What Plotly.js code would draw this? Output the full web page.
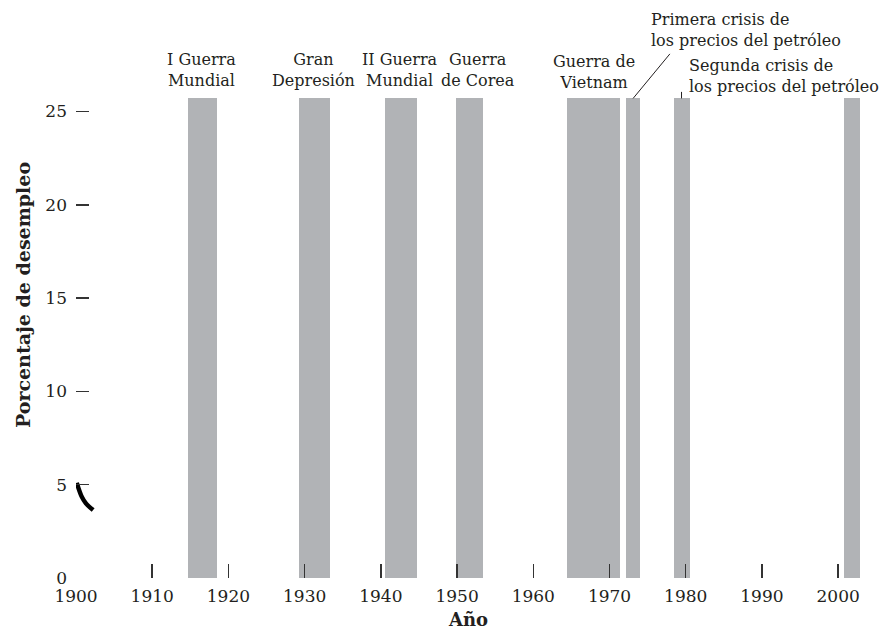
<!DOCTYPE html>
<html>
<head>
<meta charset="utf-8">
<script src="https://cdn.plot.ly/plotly-3.0.1.min.js"></script>
<style>html,body{margin:0;padding:0;background:#fff;}#chart{width:879px;height:631px;}</style>
</head>
<body>
<div id="chart"></div>
<script>
// ---- data ----
const periodLabels = ["I Guerra<br>Mundial", "Gran<br>Depresión", "II Guerra<br>Mundial", "Guerra<br>de Corea",
  "Guerra de<br>Vietnam", "Primera crisis de<br>los precios del petróleo", "Segunda crisis de<br>los precios del petróleo", ""];
const periodStart = [1914.7, 1929.2, 1940.6, 1949.9, 1964.4, 1972.2, 1978.5, 2000.8];
const periodEnd   = [1918.5, 1933.3, 1944.8, 1953.4, 1971.4, 1974.0, 1980.6, 2002.9];
const periodTop   = [25.7, 25.7, 25.7, 25.7, 25.7, 25.7, 25.7, 25.7];

const unempYears = [1900.1, 1900.75, 1901.3, 1902.25];
const unempRate  = [5.1, 4.36, 4.0, 3.64];

const xTickVals = [1900, 1910, 1920, 1930, 1940, 1950, 1960, 1970, 1980, 1990, 2000];
const yTickVals = [0, 5, 10, 15, 20, 25];

// ---- layout helpers ----
const serif = "DejaVu Serif, serif";
const ink = "#231f20";
const xRange = [1900, 2003];
const yRange = [0, 30.33];

const bars = {
  type: "bar",
  x: periodStart.map((s, i) => (s + periodEnd[i]) / 2),
  width: periodStart.map((s, i) => periodEnd[i] - s),
  y: periodTop,
  base: 0,
  marker: {color: "#b1b3b6", line: {width: 0}},
  hoverinfo: "skip",
  showlegend: false,
  xaxis: "x", yaxis: "y"
};
const line = {
  type: "scatter", mode: "lines",
  x: unempYears, y: unempRate,
  line: {color: "#000", width: 4.5, shape: "spline"},
  hoverinfo: "skip", showlegend: false,
  xaxis: "x2", yaxis: "y2"
};

// label placement (layout, not data)
const labelX = [1916.5, 1931.1, 1942.5, 1952.8, 1968.0, 1975.2, 1980.2];
const labelY = [27.2, 27.2, 27.2, 27.2, 27.1, 29.37, 26.9];
const labelAlign = ["center","center","center","center","center","left","left"];

const annotations = [];
for (let i = 0; i < 7; i++) {
  annotations.push({
    x: labelX[i], y: labelY[i], xref: "x", yref: "y",
    text: periodLabels[i], showarrow: false,
    xanchor: labelAlign[i] === "left" ? "left" : "center", yanchor: "middle",
    align: labelAlign[i],
    font: {family: serif, size: 16, color: ink}
  });
}
// connector lines
annotations.push({x: 1973.1, y: 25.7, xref: "x", yref: "y", text: "", showarrow: true,
  arrowhead: 0, arrowwidth: 1, arrowcolor: ink, ax: 38, ay: -46, standoff: 0});
annotations.push({x: 1979.45, y: 25.7, xref: "x", yref: "y", text: "", showarrow: true,
  arrowhead: 0, arrowwidth: 1, arrowcolor: ink, ax: 0, ay: -8, standoff: 0});

const tickFont = {family: serif, size: 17, color: ink};

const layout = {
  width: 879, height: 631,
  margin: {l: 76, r: 18, t: 12, b: 53, pad: 0},
  paper_bgcolor: "#fff", plot_bgcolor: "#fff",
  showlegend: false,
  bargap: 0,
  xaxis: {
    range: xRange, tickvals: xTickVals, ticks: "", showline: false, showgrid: false, zeroline: false,
    tickfont: tickFont, ticklabelstandoff: 6, fixedrange: true,
    title: {text: "<b>Año</b>", font: {family: serif, size: 18, color: ink}, standoff: 8}
  },
  yaxis: {
    range: yRange, tickvals: yTickVals, ticks: "", showline: false, showgrid: false, zeroline: false,
    tickfont: tickFont, ticklabelstandoff: 8, fixedrange: true,
    title: {text: "<b>Porcentaje de desempleo</b>", font: {family: serif, size: 19, color: ink}, standoff: 9}
  },
  xaxis2: {
    overlaying: "x", anchor: "y2", range: xRange, tickvals: xTickVals.slice(1),
    ticks: "inside", ticklen: 14, tickwidth: 1.5, tickcolor: "#333",
    showticklabels: false, showline: false, showgrid: false, zeroline: false, fixedrange: true
  },
  yaxis2: {
    overlaying: "y", anchor: "x2", range: yRange, tickvals: yTickVals.slice(1),
    ticks: "inside", ticklen: 13, tickwidth: 1.5, tickcolor: "#333",
    showticklabels: false, showline: false, showgrid: false, zeroline: false, fixedrange: true
  },
  annotations: annotations
};

Plotly.newPlot("chart", [bars, line], layout, {displayModeBar: false, staticPlot: true});
</script>
</body>
</html>
